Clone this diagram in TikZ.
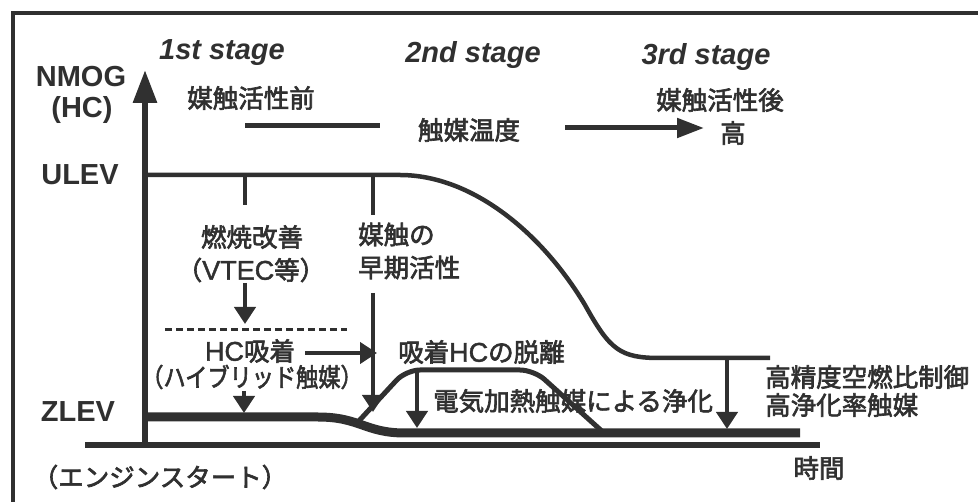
\documentclass[tikz,border=0pt]{standalone}
\usepackage{fontspec}
\setmainfont{Liberation Sans}
\newfontfamily\jp[FakeBold=2.5]{Noto Sans CJK JP}
\newfontfamily\latj[FakeBold=1.5]{Liberation Sans}
\newcommand{\lt}[1]{{\latj\fontsize{27}{33}\selectfont #1}}
\usetikzlibrary{arrows.meta}
\definecolor{ink}{HTML}{303030}
\tikzset{
  lat/.style={font=\fontsize{29}{32}\selectfont\bfseries, text=ink, inner sep=0pt},
  stg/.style={font=\fontsize{29}{32}\selectfont\bfseries\itshape, text=ink, inner sep=0pt},
  jt/.style={font=\jp\fontsize{25.5}{33}\selectfont, text=ink, inner sep=0pt},
  jl/.style={jt, align=left, anchor=west},
  thin/.style={draw=ink, line width=4.5pt},
  arr/.style={draw=ink, line width=4.5pt, -{Triangle[length=17pt,width=21pt]}},
  curve/.style={draw=ink, line width=4.5pt},
  zlev/.style={draw=ink, line width=9pt},
}
\begin{document}
\begin{tikzpicture}[x=1pt,y=-1pt]
\useasboundingbox (0,0) rectangle (978,502);
% frame
\draw[draw=ink, line width=4pt] (13,510) -- (13,13) -- (990,13);
% coordinates
\coordinate (ybot) at (145,448);
\coordinate (ytop) at (145,70);
\coordinate (b0) at (85,445);
\coordinate (b1) at (820,445);
% axes
\draw[draw=ink, line width=6pt] (b0) -- (b1);
\draw[draw=ink, line width=6pt, -{Triangle[length=33pt,width=23pt]}] (ybot) -- (ytop);
% ULEV curve
\coordinate (u0) at (145,175);
\coordinate (u1) at (400,175);
\coordinate (u2) at (585,305);
\coordinate (u3) at (660,358);
\coordinate (u4) at (770,358);
\draw[curve] (u0) -- (u1) .. controls (470,175) and (540,230) .. (u2)
  .. controls (610,350) and (620,358) .. (u3) -- (u4);
% ZLEV thick line
\coordinate (z0) at (145,417);
\coordinate (z1) at (318,417);
\coordinate (z2) at (405,433);
\coordinate (z3) at (800,433);
\draw[zlev] (z0) -- (z1) .. controls (360,417) and (365,433) .. (z2) -- (z3);
% hump
\coordinate (h0) at (357,423);
\coordinate (h1) at (406,370);
\coordinate (h2) at (534,370);
\coordinate (h3) at (604,433);
\draw[draw=ink, line width=5pt, rounded corners=14pt] (h0) -- (h1) -- (h2) -- (h3);
% labels
\node[stg] (s1) at (222,53) {1st stage};
\node[stg] (s2) at (473,55) {2nd stage};
\node[stg] (s3) at (706,57) {3rd stage};
\node[lat] (nmog) at (81,77) {NMOG};
\node[lat] (hc) at (82,110) {(HC)};
\node[lat] (ulev) at (80,175) {ULEV};
\node[lat] (zlevt) at (78,412) {ZLEV};
\node[jt] (mae) at (251,98) {媒触活性前};
\node[jt] (temp) at (469,130) {触媒温度};
\node[jt] (ato) at (720,100) {媒触活性後};
\node[jt] (taka) at (733,133) {高};
\node[jt] (nen) at (252,237) {燃焼改善};
\node[jt] (vtec) at (251,270) {（\lt{VTEC}等）};
\node[jl] (sou) at (358,251) {媒触の\\早期活性};
\node[jt] (hcad) at (250,351) {\lt{HC}吸着};
\node[jt] (hyb) at (252,377) {\scalebox{0.87}[1]{（ハイブリッド触媒）}};
\node[jl] (datsu) at (398,352) {吸着\lt{HC}の脱離};
\node[jl] (denki) at (433,401) {電気加熱触媒による浄化};
\node[jl] (kou) at (765,391) {高精度空燃比制御\\[-5pt]高浄化率触媒};
\node[jt] (jikan) at (819,468) {時間};
\node[jt] (eng) at (160,477) {（エンジンスタート）};
% temperature bar and arrow
\coordinate (t0) at (245,126);
\coordinate (t1) at (380,126);
\coordinate (t2) at (565,128);
\coordinate (t3) at (704,128);
\draw[draw=ink, line width=5pt] (t0) -- (t1);
\draw[draw=ink, line width=5pt, -{Triangle[length=27pt,width=19pt]}] (t2) -- (t3);
% ticks
\coordinate (k1a) at (245,175);
\coordinate (k1b) at (245,205);
\coordinate (k2a) at (373,175);
\coordinate (k2b) at (373,215);
\draw[thin] (k1a) -- (k1b);
\draw[thin] (k2a) -- (k2b);
% arrows
\coordinate (a1a) at (245,283);
\coordinate (a1b) at (245,324);
\draw[arr] (a1a) -- (a1b);
\coordinate (a2a) at (373,293);
\coordinate (a2b) at (373,412);
\draw[arr] (a2a) -- (a2b);
\coordinate (a3a) at (244,391);
\coordinate (a3b) at (244,413);
\draw[arr] (a3a) -- (a3b);
\coordinate (a4a) at (305,353);
\coordinate (a4b) at (377,353);
\draw[arr] (a4a) -- (a4b);
\coordinate (a5a) at (417,372);
\coordinate (a5b) at (417,428);
\draw[arr] (a5a) -- (a5b);
\coordinate (a6a) at (727,360);
\coordinate (a6b) at (727,429);
\draw[arr] (a6a) -- (a6b);
% dashed line
\coordinate (d0) at (165,330);
\coordinate (d1) at (347,330);
\draw[draw=ink, line width=3pt, dash pattern=on 6.5pt off 4.5pt] (d0) -- (d1);
\end{tikzpicture}
\end{document}
